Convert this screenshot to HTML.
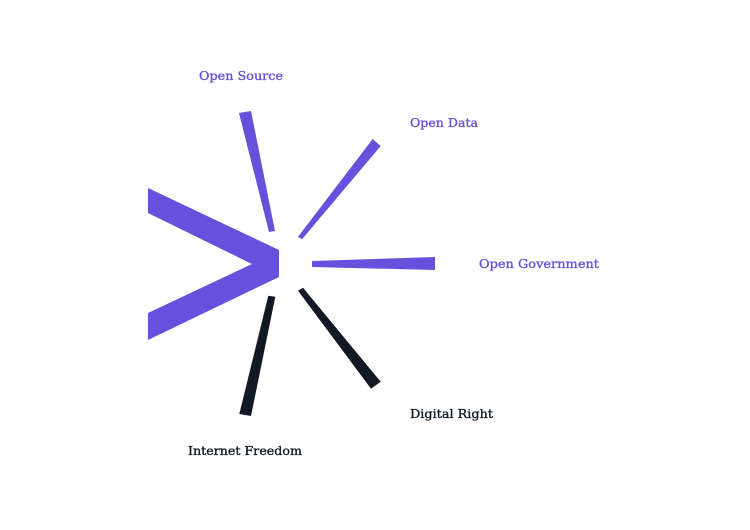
<!DOCTYPE html>
<html><head><style>html,body{margin:0;padding:0;background:#fff;}</style></head>
<body>
<svg width="750" height="525" viewBox="0 0 750 525" xmlns="http://www.w3.org/2000/svg">
<g fill="#6750DC">
<polygon points="148,188 279,250 279,277 148,340 148,313 252,264 148,213"/>
<polygon points="239,113 251,111 275,231 269,232"/>
<polygon points="372.7,139 380.7,146 302,239.3 298,236.7"/>
<polygon points="312,261 435,257 435,270 312,267"/>
</g>
<g fill="#111A24">
<polygon points="298,290.7 303,287.7 380.7,381.7 371,388.7"/>
<polygon points="268.3,295.7 275.3,296.7 251,416 239.3,414"/>
</g>
<g font-family="DejaVu Serif, Liberation Serif, serif" font-size="12.5" stroke-width="0.35">
<text x="199" y="80" fill="#6750DC" stroke="#6750DC" textLength="84" lengthAdjust="spacingAndGlyphs">Open Source</text>
<text x="410" y="127" fill="#6750DC" stroke="#6750DC" textLength="68" lengthAdjust="spacingAndGlyphs">Open Data</text>
<text x="479" y="268" fill="#6750DC" stroke="#6750DC" textLength="120" lengthAdjust="spacingAndGlyphs">Open Government</text>
<text x="410" y="418" fill="#111A24" stroke="#111A24" textLength="83" lengthAdjust="spacingAndGlyphs">Digital Right</text>
<text x="188" y="455" fill="#111A24" stroke="#111A24" textLength="114" lengthAdjust="spacingAndGlyphs">Internet Freedom</text>
</g>
</svg>
</body></html>
